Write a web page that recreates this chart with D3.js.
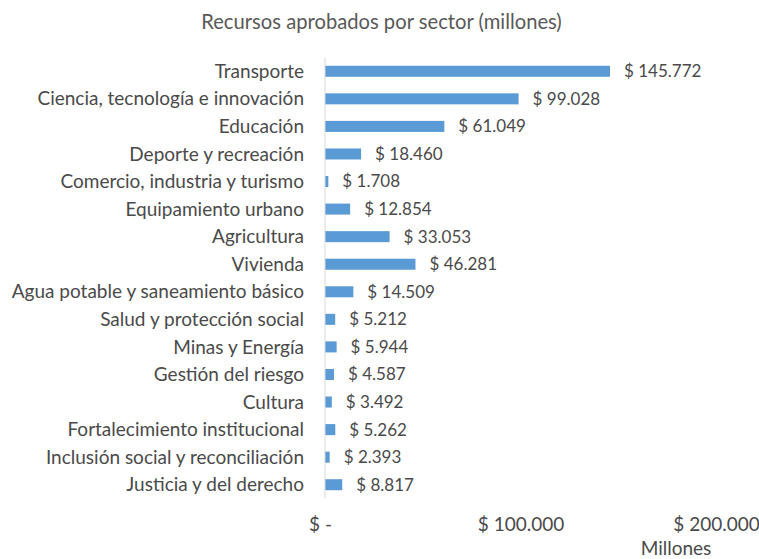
<!DOCTYPE html>
<html><head><meta charset="utf-8">
<script src="https://cdn.jsdelivr.net/npm/d3@7"></script>
<style>body{margin:0;background:#fff}svg{display:block}text{font-family:Lato,sans-serif;fill:#4a4a4a}</style>
</head><body><svg id="c" width="759" height="559"></svg>
<script>
const categories = ["Transporte","Ciencia, tecnología e innovación","Educación","Deporte y recreación","Comercio, industria y turismo","Equipamiento urbano","Agricultura","Vivienda","Agua potable y saneamiento básico","Salud y protección social","Minas y Energía","Gestión del riesgo","Cultura","Fortalecimiento institucional","Inclusión social y reconciliación","Justicia y del derecho"];
const values = [145772,99028,61049,18460,1708,12854,33053,46281,14509,5212,5944,4587,3492,5262,2393,8817];
const tickValues = [0,100000,200000];
const tickLabels = ["$ -","$ 100.000","$ 200.000"];
const title = "Recursos aprobados por sector (millones)";
const axisTitle = "Millones";

const svg = d3.select("#c");
const fmt = v => "$ " + d3.format(",")(v).replace(/,/g, ".");
const x = d3.scaleLinear().domain([0,200000]).range([325,716]);
const y = d3.scaleBand().domain(categories).range([57.5,498.5]).paddingInner(0.6).paddingOuter(0.3);

svg.append("text").attr("x",381.5).attr("y",29).attr("text-anchor","middle").attr("font-size",20.2).style("fill","#595959").text(title);

svg.append("g").selectAll("rect").data(values).join("rect")
  .attr("x",x(0)).attr("y",(d,i)=>y(categories[i])).attr("width",d=>x(d)-x(0)).attr("height",y.bandwidth()).attr("fill","#5B9BD5");

svg.append("line").attr("x1",x(0)).attr("x2",x(0)).attr("y1",57.5).attr("y2",498.5).attr("stroke","#d9d9d9").attr("stroke-width",1);

svg.append("g").selectAll("text").data(categories).join("text")
  .attr("x",304).attr("y",d=>y(d)+y.bandwidth()/2).attr("dy","0.35em").attr("text-anchor","end").attr("font-size",19).text(d=>d);

svg.append("g").selectAll("text").data(values).join("text")
  .attr("x",d=>x(d)+14).attr("y",(d,i)=>y(categories[i])+y.bandwidth()/2).attr("dy","0.35em").attr("font-size",17).text(d=>fmt(d));

const xAxis = d3.axisBottom(x).tickValues(tickValues).tickFormat((d,i)=>tickLabels[i]).tickSize(0).tickPadding(0);
const ga = svg.append("g").attr("transform","translate(0,517)").call(xAxis);
ga.select(".domain").remove();
ga.selectAll("text").attr("font-size",19).attr("fill","#4a4a4a").style("font-family","Lato,sans-serif");
ga.selectAll(".tick").filter((d,i)=>i===0).select("text").attr("dx",-5);

svg.append("text").attr("x",676).attr("y",555).attr("text-anchor","middle").attr("font-size",19).text(axisTitle);
</script></body></html>
